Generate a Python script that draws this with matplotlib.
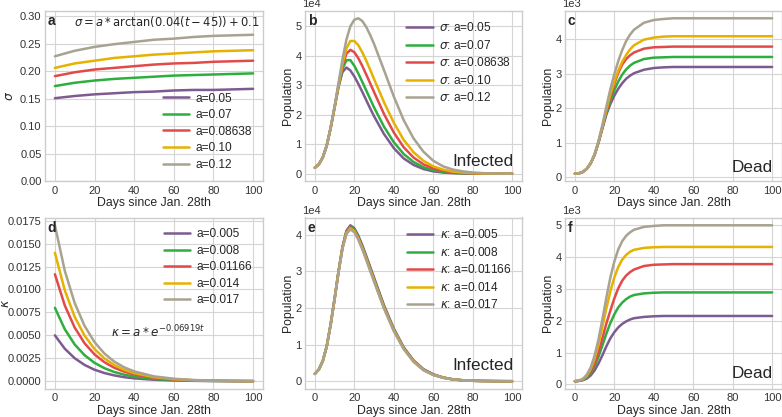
import matplotlib.pyplot as plt

# colours for the five parameter values
colors = ['#7d5b91', '#2eae3e', '#e24a4a', '#e6b100', '#a8a290']

# ---- panel a : sigma(t) ----
t_a = [0, 10, 20, 30, 40, 50, 60, 70, 80, 90, 100]
sigma_labels = ['a=0.05', 'a=0.07', 'a=0.08638', 'a=0.10', 'a=0.12']
sigma_a1 = [0.151, 0.155, 0.158, 0.160, 0.162, 0.163, 0.165, 0.166, 0.166, 0.167, 0.168]
sigma_a2 = [0.173, 0.179, 0.183, 0.186, 0.188, 0.190, 0.192, 0.193, 0.194, 0.195, 0.196]
sigma_a3 = [0.191, 0.198, 0.203, 0.206, 0.209, 0.212, 0.214, 0.215, 0.217, 0.218, 0.219]
sigma_a4 = [0.206, 0.214, 0.219, 0.224, 0.227, 0.230, 0.232, 0.234, 0.236, 0.237, 0.238]
sigma_a5 = [0.227, 0.237, 0.244, 0.249, 0.253, 0.257, 0.259, 0.262, 0.264, 0.265, 0.266]

# ---- panel d : kappa(t) ----
t_d = [0, 5, 10, 15, 20, 25, 30, 35, 40, 50, 60, 70, 80, 90, 100]
kappa_labels = ['a=0.005', 'a=0.008', 'a=0.01166', 'a=0.014', 'a=0.017']
kappa_a1 = [5.0, 3.54, 2.50, 1.77, 1.25, 0.89, 0.63, 0.44, 0.31, 0.16, 0.08, 0.04, 0.02, 0.01, 0.0]
kappa_a2 = [8.0, 5.66, 4.00, 2.83, 2.00, 1.42, 1.00, 0.71, 0.50, 0.25, 0.13, 0.06, 0.03, 0.02, 0.01]
kappa_a3 = [11.66, 8.25, 5.84, 4.13, 2.92, 2.07, 1.46, 1.04, 0.73, 0.37, 0.18, 0.09, 0.05, 0.02, 0.01]
kappa_a4 = [14.0, 9.90, 7.01, 4.96, 3.51, 2.48, 1.76, 1.24, 0.88, 0.44, 0.22, 0.11, 0.05, 0.03, 0.01]
kappa_a5 = [17.0, 12.03, 8.51, 6.02, 4.26, 3.01, 2.13, 1.51, 1.07, 0.53, 0.27, 0.13, 0.07, 0.03, 0.02]

# ---- population panels (b, c, e, f) ----
t_pop = [0, 2, 4, 6, 8, 10, 12, 14, 16, 18, 20, 22, 24, 26, 28, 30,
         35, 40, 45, 50, 55, 60, 65, 70, 75, 80, 85, 90, 95, 100]

# infected, sigma varied (x1e4)
inf_s1 = [0.2, 0.32, 0.55, 0.95, 1.55, 2.25, 2.95, 3.45, 3.6, 3.5, 3.3, 3.05, 2.78, 2.5, 2.22, 1.95,
          1.35, 0.87, 0.52, 0.3, 0.16, 0.08, 0.04, 0.02, 0.01, 0.005, 0.0, 0.0, 0.0, 0.0]
inf_s2 = [0.2, 0.32, 0.55, 0.95, 1.55, 2.25, 2.97, 3.55, 3.85, 3.85, 3.66, 3.4, 3.12, 2.83, 2.54, 2.25,
          1.6, 1.07, 0.67, 0.4, 0.22, 0.12, 0.06, 0.03, 0.015, 0.007, 0.003, 0.0, 0.0, 0.0]
inf_s3 = [0.2, 0.32, 0.55, 0.95, 1.55, 2.25, 3.0, 3.65, 4.07, 4.2, 4.12, 3.92, 3.66, 3.37, 3.07, 2.77,
          2.03, 1.4, 0.9, 0.55, 0.32, 0.18, 0.1, 0.05, 0.025, 0.012, 0.006, 0.003, 0.001, 0.0]
inf_s4 = [0.2, 0.32, 0.55, 0.95, 1.55, 2.26, 3.02, 3.72, 4.25, 4.5, 4.5, 4.36, 4.12, 3.84, 3.53, 3.21,
          2.43, 1.73, 1.15, 0.73, 0.44, 0.25, 0.14, 0.07, 0.04, 0.02, 0.01, 0.005, 0.002, 0.0]
inf_s5 = [0.2, 0.32, 0.55, 0.95, 1.56, 2.28, 3.08, 3.88, 4.55, 5.0, 5.22, 5.27, 5.18, 4.98, 4.71, 4.4,
          3.52, 2.62, 1.82, 1.2, 0.75, 0.44, 0.25, 0.14, 0.08, 0.04, 0.02, 0.01, 0.005, 0.002]

# dead, sigma varied (x1e3)
dead_s1 = [0.1, 0.11, 0.15, 0.24, 0.4, 0.65, 1.0, 1.42, 1.82, 2.12, 2.36, 2.56, 2.72, 2.85, 2.94, 3.01,
           3.11, 3.16, 3.18, 3.19, 3.19, 3.19, 3.19, 3.19, 3.19, 3.19, 3.19, 3.19, 3.19, 3.19]
dead_s2 = [0.1, 0.11, 0.15, 0.24, 0.4, 0.65, 1.01, 1.44, 1.87, 2.22, 2.52, 2.77, 2.97, 3.12, 3.23, 3.31,
           3.42, 3.46, 3.47, 3.48, 3.48, 3.48, 3.48, 3.48, 3.48, 3.48, 3.48, 3.48, 3.48, 3.48]
dead_s3 = [0.1, 0.11, 0.15, 0.24, 0.4, 0.65, 1.02, 1.46, 1.92, 2.32, 2.7, 3.02, 3.26, 3.42, 3.53, 3.61,
           3.72, 3.76, 3.77, 3.78, 3.78, 3.78, 3.78, 3.78, 3.78, 3.78, 3.78, 3.78, 3.78, 3.78]
dead_s4 = [0.1, 0.11, 0.15, 0.24, 0.4, 0.66, 1.03, 1.48, 1.97, 2.4, 2.77, 3.08, 3.34, 3.54, 3.7, 3.82,
           3.98, 4.04, 4.07, 4.08, 4.08, 4.08, 4.08, 4.08, 4.08, 4.08, 4.08, 4.08, 4.08, 4.08]
dead_s5 = [0.1, 0.11, 0.15, 0.24, 0.4, 0.66, 1.05, 1.52, 2.05, 2.55, 2.98, 3.36, 3.68, 3.94, 4.13, 4.27,
           4.47, 4.55, 4.58, 4.6, 4.6, 4.6, 4.6, 4.6, 4.6, 4.6, 4.6, 4.6, 4.6, 4.6]

# infected, kappa varied (x1e4)
inf_k1 = [0.2, 0.32, 0.55, 0.95, 1.55, 2.25, 3.0, 3.67, 4.11, 4.26, 4.18, 3.98, 3.72, 3.43, 3.13, 2.83,
          2.08, 1.44, 0.93, 0.57, 0.33, 0.19, 0.1, 0.05, 0.025, 0.012, 0.006, 0.003, 0.001, 0.0]
inf_k2 = [0.2, 0.32, 0.55, 0.95, 1.55, 2.25, 3.0, 3.66, 4.09, 4.23, 4.15, 3.95, 3.69, 3.4, 3.1, 2.8,
          2.05, 1.42, 0.91, 0.56, 0.32, 0.18, 0.1, 0.05, 0.025, 0.012, 0.006, 0.003, 0.001, 0.0]
inf_k3 = [0.2, 0.32, 0.55, 0.95, 1.55, 2.25, 3.0, 3.65, 4.07, 4.2, 4.12, 3.92, 3.66, 3.37, 3.07, 2.77,
          2.03, 1.4, 0.9, 0.55, 0.32, 0.18, 0.1, 0.05, 0.025, 0.012, 0.006, 0.003, 0.001, 0.0]
inf_k4 = [0.2, 0.32, 0.55, 0.95, 1.55, 2.25, 2.99, 3.64, 4.05, 4.18, 4.1, 3.9, 3.64, 3.35, 3.05, 2.75,
          2.01, 1.39, 0.89, 0.54, 0.31, 0.17, 0.1, 0.05, 0.025, 0.012, 0.006, 0.003, 0.001, 0.0]
inf_k5 = [0.2, 0.32, 0.55, 0.95, 1.55, 2.24, 2.98, 3.62, 4.02, 4.15, 4.07, 3.87, 3.61, 3.32, 3.02, 2.72,
          1.99, 1.37, 0.88, 0.53, 0.3, 0.17, 0.09, 0.05, 0.025, 0.012, 0.006, 0.003, 0.001, 0.0]

# dead, kappa varied (x1e3)
dead_k1 = [0.1, 0.11, 0.13, 0.18, 0.28, 0.44, 0.66, 0.92, 1.2, 1.45, 1.64, 1.79, 1.9, 1.98, 2.04, 2.08,
           2.12, 2.14, 2.15, 2.15, 2.15, 2.15, 2.15, 2.15, 2.15, 2.15, 2.15, 2.15, 2.15, 2.15]
dead_k2 = [0.1, 0.11, 0.14, 0.21, 0.35, 0.57, 0.87, 1.23, 1.6, 1.93, 2.2, 2.42, 2.57, 2.68, 2.76, 2.81,
           2.86, 2.88, 2.89, 2.89, 2.89, 2.89, 2.89, 2.89, 2.89, 2.89, 2.89, 2.89, 2.89, 2.89]
dead_k3 = [0.1, 0.11, 0.15, 0.24, 0.4, 0.65, 1.02, 1.46, 1.92, 2.32, 2.7, 3.02, 3.26, 3.42, 3.53, 3.61,
           3.72, 3.76, 3.77, 3.78, 3.78, 3.78, 3.78, 3.78, 3.78, 3.78, 3.78, 3.78, 3.78, 3.78]
dead_k4 = [0.1, 0.12, 0.16, 0.27, 0.48, 0.8, 1.26, 1.82, 2.4, 2.93, 3.36, 3.69, 3.92, 4.07, 4.17, 4.23,
           4.29, 4.31, 4.32, 4.32, 4.32, 4.32, 4.32, 4.32, 4.32, 4.32, 4.32, 4.32, 4.32, 4.32]
dead_k5 = [0.1, 0.12, 0.17, 0.3, 0.53, 0.9, 1.42, 2.06, 2.74, 3.36, 3.86, 4.24, 4.5, 4.67, 4.78, 4.86,
           4.95, 4.98, 5.0, 5.0, 5.0, 5.0, 5.0, 5.0, 5.0, 5.0, 5.0, 5.0, 5.0, 5.0]

plt.style.use('seaborn-v0_8-whitegrid')
plt.rcParams['font.family'] = ['Liberation Sans', 'DejaVu Sans']
plt.rcParams['mathtext.fontset'] = 'dejavusans'
plt.rcParams['axes.edgecolor'] = '#cccccc'
plt.rcParams['grid.color'] = '#d5d5d5'
plt.rcParams['xtick.color'] = '#333333'
plt.rcParams['ytick.color'] = '#333333'
plt.rcParams['xtick.labelsize'] = 8
plt.rcParams['ytick.labelsize'] = 8
plt.rcParams['xtick.major.pad'] = 3
plt.rcParams['ytick.major.pad'] = 2.5
plt.rcParams['axes.labelsize'] = 8.8
plt.rcParams['axes.labelpad'] = 1.0
plt.rcParams['axes.labelcolor'] = '#262626'

W, H = 782, 417
fig = plt.figure(figsize=(W / 100, H / 100), dpi=100)


def make_ax(left, top, right, bottom):
    return fig.add_axes([left / W, 1 - bottom / H, (right - left) / W, (bottom - top) / H])


ax_a = make_ax(45, 10.5, 263, 181.5)
ax_b = make_ax(305, 10.5, 522, 181.5)
ax_c = make_ax(565, 10.5, 782, 181.5)
ax_d = make_ax(45, 217.5, 263, 389)
ax_e = make_ax(305, 217.5, 522, 389)
ax_f = make_ax(565, 217.5, 782, 389)

lw = 1.8
leg_kw = dict(fontsize=8.6, handlelength=2.2, handletextpad=0.55, labelspacing=0.38)

# a
for ys, lab, c in zip([sigma_a1, sigma_a2, sigma_a3, sigma_a4, sigma_a5], sigma_labels, colors):
    ax_a.plot(t_a, ys, color=c, lw=lw, label=lab)
ax_a.set_ylim(0, 0.31)
ax_a.set_yticks([0.0, 0.05, 0.10, 0.15, 0.20, 0.25, 0.30])
ax_a.set_ylabel(r'$\sigma$')
ax_a.yaxis.set_label_coords(-0.135, 0.5)
ax_a.legend(loc='lower right', **leg_kw)
ax_a.text(0.986, 0.935, r'$\sigma = a*\arctan(0.04(t-45))+0.1$', transform=ax_a.transAxes,
          ha='right', va='center', fontsize=8.3, color='#262626')

# d
for ys, lab, c in zip([kappa_a1, kappa_a2, kappa_a3, kappa_a4, kappa_a5], kappa_labels, colors):
    ax_d.plot(t_d, [v / 1000 for v in ys], color=c, lw=lw, label=lab)
ax_d.set_yticks([0.0, 0.0025, 0.005, 0.0075, 0.01, 0.0125, 0.015, 0.0175])
ax_d.set_yticklabels(['0.0000', '0.0025', '0.0050', '0.0075', '0.0100', '0.0125', '0.0150', '0.0175'])
ax_d.set_ylabel(r'$\kappa$')
ax_d.yaxis.set_label_coords(-0.15, 0.5)
ax_d.legend(loc='upper right', **leg_kw)
ax_d.text(0.303, 0.30, r'$\kappa = a*e^{-0.06919t}$', transform=ax_d.transAxes,
          ha='left', va='baseline', fontsize=8.6, color='#262626')

# b, e
for ys, lab, c in zip([inf_s1, inf_s2, inf_s3, inf_s4, inf_s5], sigma_labels, colors):
    ax_b.plot(t_pop, [v * 1e4 for v in ys], color=c, lw=lw, label=r'$\sigma$: ' + lab)
for ys, lab, c in zip([inf_k1, inf_k2, inf_k3, inf_k4, inf_k5], kappa_labels, colors):
    ax_e.plot(t_pop, [v * 1e4 for v in ys], color=c, lw=lw, label=r'$\kappa$: ' + lab)
for ax in (ax_b, ax_e):
    ax.legend(loc='upper right', **leg_kw)

# c, f
for ys, c in zip([dead_s1, dead_s2, dead_s3, dead_s4, dead_s5], colors):
    ax_c.plot(t_pop, [v * 1e3 for v in ys], color=c, lw=lw)
for ys, c in zip([dead_k1, dead_k2, dead_k3, dead_k4, dead_k5], colors):
    ax_f.plot(t_pop, [v * 1e3 for v in ys], color=c, lw=lw)

for ax, mult in ((ax_b, '1e4'), (ax_c, '1e3'), (ax_e, '1e4'), (ax_f, '1e3')):
    ax.ticklabel_format(axis='y', style='sci', scilimits=(0, 0))
    ax.yaxis.get_offset_text().set_visible(False)
    ax.annotate(mult, xy=(0, 1), xycoords='axes fraction', xytext=(-2.2, 4.6),
                textcoords='offset points', ha='left', va='center', fontsize=8, color='#333333')
    ax.set_ylabel('Population')

ax_b.text(0.963, 0.092, 'Infected', transform=ax_b.transAxes, ha='right', va='baseline', fontsize=12.3)
ax_e.text(0.963, 0.11, 'Infected', transform=ax_e.transAxes, ha='right', va='baseline', fontsize=12.3)
ax_c.text(0.958, 0.057, 'Dead', transform=ax_c.transAxes, ha='right', va='baseline', fontsize=12.3)
ax_f.text(0.958, 0.063, 'Dead', transform=ax_f.transAxes, ha='right', va='baseline', fontsize=12.3)

for ax, letter in zip([ax_a, ax_b, ax_c, ax_d, ax_e, ax_f], 'abcdef'):
    ax.set_xticks([0, 20, 40, 60, 80, 100])
    ax.set_xlabel('Days since Jan. 28th')
    ax.text(0.012, 0.94, letter, transform=ax.transAxes, ha='left', va='center',
            fontsize=10, fontweight='bold', color='#262626')
    for s in ax.spines.values():
        s.set_linewidth(1.0)

fig.savefig('out.png', dpi=100)
